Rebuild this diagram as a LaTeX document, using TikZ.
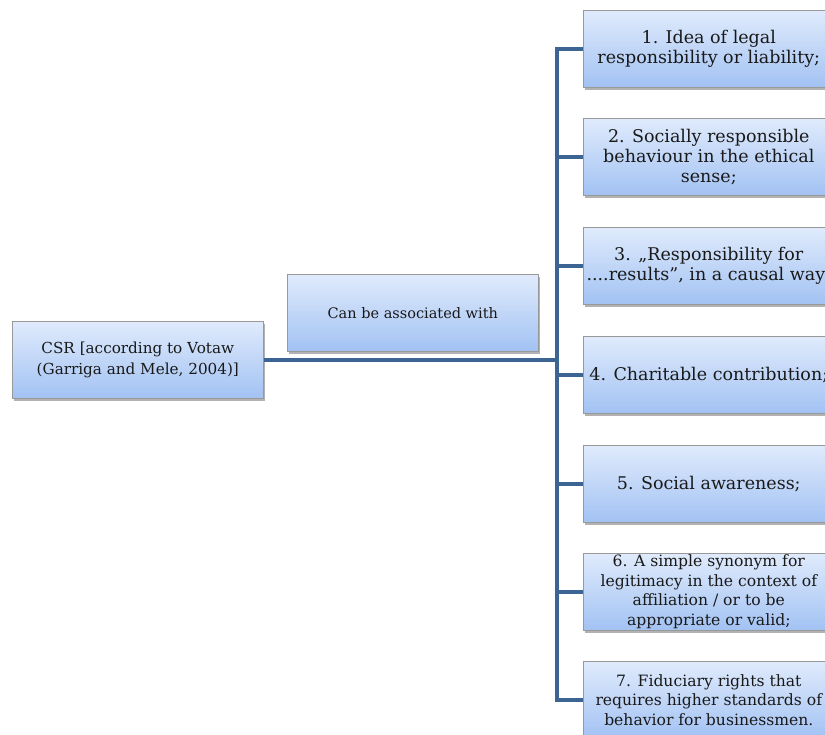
\documentclass[tikz,border=0pt]{standalone}
\usepackage{fontspec}
\setmainfont{DejaVu Serif}
\usetikzlibrary{shadows}
\definecolor{boxtop}{HTML}{E0EBFC}
\definecolor{boxbot}{HTML}{A2C2F3}
\definecolor{linkblue}{HTML}{3D6594}
\tikzset{
  box/.style={draw=black!40, line width=0.6pt, top color=boxtop, bottom color=boxbot,
    minimum width=251pt, minimum height=77pt, align=center, text=black!90,
    anchor=north west, inner sep=1pt,
    drop shadow={shadow xshift=2pt, shadow yshift=-3pt, opacity=0.3, fill=black}},
  bigtxt/.style={font=\fontsize{17.5}{20}\selectfont},
  midtxt/.style={font=\fontsize{15.6}{19.5}\selectfont},
  csrtxt/.style={font=\fontsize{15.2}{21}\selectfont},
  assoctxt/.style={font=\fontsize{14.5}{20}\selectfont},
  link/.style={draw=linkblue, line width=4pt, line join=miter}
}
\begin{document}
\begin{tikzpicture}[x=1pt,y=-1pt]
\useasboundingbox (0,0) rectangle (825,735);
\clip (0,0) rectangle (825,735);
\coordinate (tx) at (557,0);
\node[box, csrtxt] (csr) at (12,321) {CSR [according to Votaw\\(Garriga and Mele, 2004)]};
\node[box, assoctxt] (assoc) at (287,274) {Can be associated with};
\node[box, bigtxt] (b1) at (583,10) {1. Idea of legal\\responsibility or liability;};
\node[box, bigtxt] (b2) at (583,118) {2. Socially responsible\\behaviour in the ethical\\sense;};
\node[box, bigtxt] (b3) at (583,227) {3. „Responsibility for\\....results”, in a causal way;};
\node[box, bigtxt] (b4) at (583,336) {4. Charitable contribution;};
\node[box, bigtxt] (b5) at (583,445) {5. Social awareness;};
\node[box, midtxt] (b6) at (583,553) {6. A simple synonym for\\legitimacy in the context of\\affiliation / or to be\\appropriate or valid;};
\node[box, midtxt] (b7) at (583,661) {7. Fiduciary rights that\\requires higher standards of\\behavior for businessmen.};
\draw[link] (b1.west) -- (b1.west -| tx) -- (b7.west -| tx) -- (b7.west);
\draw[link] (csr.east) -- (csr.east -| tx);
\foreach \b in {b2,b3,b4,b5,b6} {
  \draw[link] (\b.west -| tx) -- (\b.west);
}
\end{tikzpicture}
\end{document}
